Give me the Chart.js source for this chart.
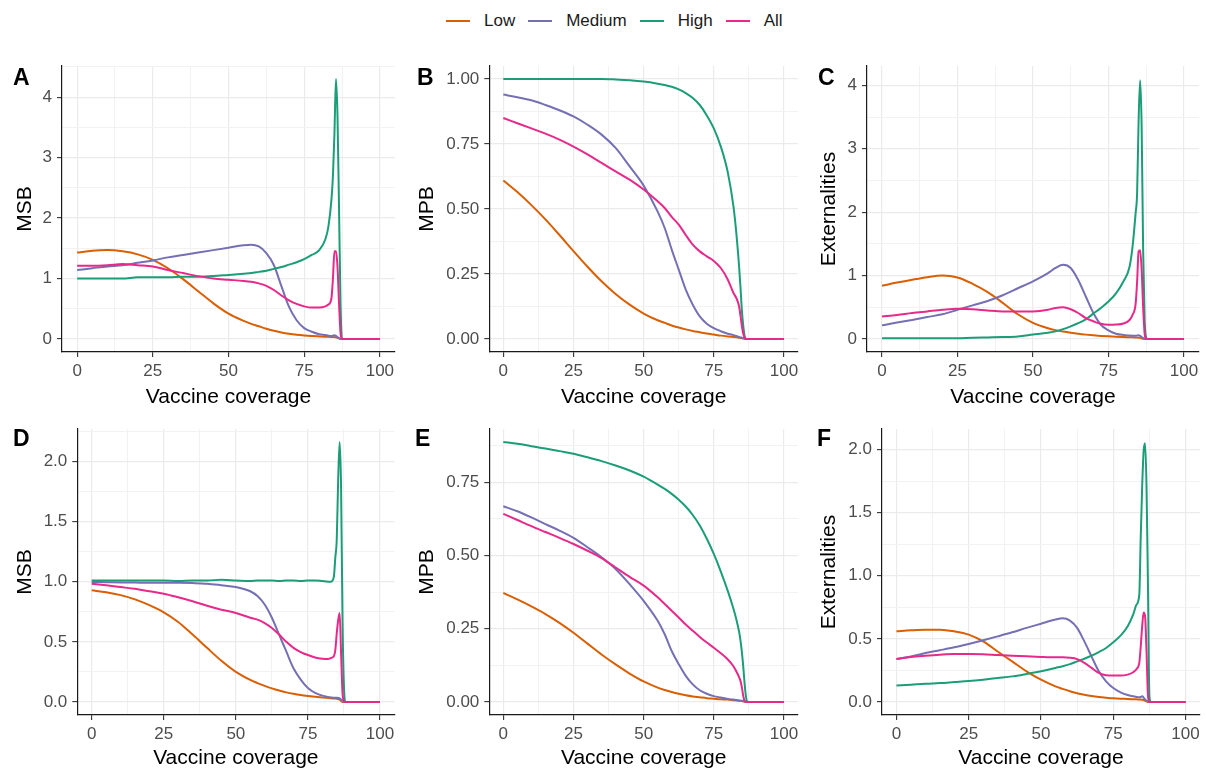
<!DOCTYPE html>
<html>
<head>
<meta charset="utf-8">
<script src="https://cdn.jsdelivr.net/npm/chart.js@4.4.1/dist/chart.umd.min.js"></script>
<style>
html,body{margin:0;padding:0;background:#fff;width:1206px;height:771px;overflow:hidden;font-family:"Liberation Sans",Arial,sans-serif;}
canvas.panel{position:absolute;}
#legend{position:absolute;left:446px;top:9px;height:24px;display:flex;align-items:center;font-size:17px;color:#1a1a1a;}
#legend .item{display:flex;align-items:center;margin-right:13px;}
#legend .swatch{width:24px;height:2.5px;margin-right:14px;}
</style>
</head>
<body>
<div id="legend"></div>
<canvas id="pA" class="panel"></canvas>
<canvas id="pB" class="panel"></canvas>
<canvas id="pC" class="panel"></canvas>
<canvas id="pD" class="panel"></canvas>
<canvas id="pE" class="panel"></canvas>
<canvas id="pF" class="panel"></canvas>
<script>
// ---------------- DATA ----------------
const seriesNames = ['Low', 'Medium', 'High', 'All'];
const seriesColors = ['#D95F02', '#7570B3', '#1B9E77', '#E7298A'];

const coverage = [0,5,10,15,20,25,30,35,40,45,50,55,57.5,60,62.5,65,67.5,70,72.5,75,77.5,80,82,83,84,84.5,85,85.5,86,86.5,87,87.5,88,90,95,100];

const xMajorTicks = [0, 25, 50, 75, 100];
const xMinorTicks = [12.5, 37.5, 62.5, 87.5];

// Panel A: MSB
const msbLowA  = [1.43,1.46,1.47,1.45,1.40,1.31,1.17,0.99,0.79,0.59,0.42,0.30,0.25,0.21,0.17,0.135,0.108,0.087,0.071,0.059,0.05,0.043,0.038,0.036,0.034,0.033,0.031,0.028,0.02,0.01,0,0,0,0,0,0];
const msbMedA  = [1.14,1.17,1.20,1.22,1.26,1.30,1.35,1.39,1.43,1.47,1.51,1.55,1.56,1.53,1.42,1.22,0.87,0.53,0.31,0.18,0.12,0.08,0.065,0.055,0.05,0.055,0.06,0.05,0.03,0.015,0,0,0,0,0,0];
const msbHighA = [1.0,1.0,1.0,1.0,1.02,1.02,1.02,1.03,1.03,1.04,1.06,1.08,1.09,1.11,1.13,1.16,1.19,1.23,1.27,1.32,1.39,1.47,1.65,1.86,2.3,2.7,3.4,4.3,3.7,2.2,0.6,0,0,0,0,0];
const msbAllA  = [1.21,1.21,1.22,1.24,1.22,1.20,1.14,1.09,1.04,1.0,0.98,0.96,0.945,0.92,0.88,0.81,0.72,0.64,0.58,0.54,0.52,0.52,0.54,0.57,0.67,1.0,1.45,1.45,1.2,0.6,0.1,0,0,0,0,0];

// Panel B: MPB
const mpbLowB  = [0.61,0.565,0.515,0.46,0.40,0.338,0.278,0.222,0.173,0.132,0.098,0.072,0.062,0.052,0.044,0.037,0.031,0.026,0.021,0.017,0.013,0.01,0.008,0.007,0.005,0.004,0.003,0.002,0.001,0,0,0,0,0,0,0];
const mpbMedB  = [0.94,0.93,0.918,0.90,0.88,0.856,0.824,0.786,0.735,0.664,0.59,0.49,0.427,0.344,0.267,0.19,0.132,0.087,0.059,0.042,0.03,0.02,0.015,0.012,0.008,0.006,0.005,0.003,0.002,0.001,0,0,0,0,0,0];
const mpbHighB = [1.0,1.0,1.0,1.0,1.0,1.0,1.0,1.0,0.998,0.995,0.99,0.982,0.977,0.97,0.96,0.946,0.927,0.90,0.86,0.81,0.74,0.64,0.51,0.41,0.28,0.2,0.11,0.05,0.01,0,0,0,0,0,0,0];
const mpbAllB  = [0.85,0.83,0.81,0.79,0.767,0.74,0.71,0.677,0.645,0.613,0.575,0.53,0.504,0.47,0.44,0.40,0.363,0.337,0.318,0.30,0.273,0.228,0.177,0.158,0.126,0.09,0.05,0.02,0.005,0,0,0,0,0,0,0];

// Panel C: Externalities
const extLowC  = [0.84,0.89,0.935,0.975,1.0,0.97,0.87,0.74,0.57,0.39,0.255,0.17,0.14,0.117,0.098,0.082,0.069,0.058,0.049,0.042,0.036,0.031,0.028,0.026,0.024,0.023,0.021,0.018,0.012,0.005,0,0,0,0,0,0];
const extMedC  = [0.215,0.26,0.30,0.346,0.39,0.46,0.53,0.60,0.69,0.80,0.91,1.04,1.12,1.17,1.12,0.93,0.67,0.41,0.225,0.136,0.084,0.063,0.055,0.052,0.05,0.055,0.06,0.05,0.03,0.015,0,0,0,0,0,0];
const extHighC = [0.01,0.01,0.01,0.01,0.01,0.012,0.02,0.025,0.03,0.04,0.07,0.10,0.12,0.155,0.2,0.25,0.31,0.40,0.49,0.59,0.72,0.91,1.14,1.46,1.98,2.3,3.45,4.08,3.35,1.4,0.3,0.02,0,0,0,0];
const extAllC  = [0.356,0.38,0.41,0.435,0.46,0.477,0.47,0.45,0.435,0.435,0.435,0.46,0.49,0.50,0.47,0.41,0.33,0.28,0.24,0.225,0.228,0.245,0.30,0.38,0.55,0.9,1.38,1.4,1.1,0.5,0.08,0,0,0,0,0];

// Panel D: MSB
const msbLowD  = [0.928,0.912,0.888,0.853,0.805,0.745,0.665,0.56,0.45,0.342,0.25,0.183,0.157,0.134,0.113,0.095,0.08,0.068,0.058,0.05,0.043,0.037,0.033,0.031,0.029,0.028,0.026,0.023,0.02,0.01,0,0,0,0,0,0];
const msbMedD  = [0.997,0.995,0.993,0.992,0.99,0.99,0.99,0.988,0.983,0.97,0.955,0.92,0.88,0.81,0.70,0.56,0.42,0.28,0.186,0.116,0.075,0.053,0.042,0.038,0.035,0.035,0.035,0.033,0.03,0.02,0.01,0,0,0,0,0];
const msbHighD = [1.01,1.01,1.01,1.01,1.01,1.01,1.005,1.01,1.01,1.015,1.01,1.005,1.01,1.01,1.01,1.005,1.01,1.01,1.005,1.01,1.01,1.005,1.0,1.0,1.04,1.2,1.35,1.85,2.16,1.79,0.68,0.13,0,0,0,0];
const msbAllD  = [0.983,0.97,0.955,0.94,0.92,0.90,0.87,0.837,0.80,0.767,0.74,0.70,0.684,0.656,0.615,0.56,0.50,0.45,0.415,0.39,0.37,0.36,0.357,0.366,0.38,0.43,0.57,0.68,0.74,0.41,0.075,0.01,0,0,0,0];

// Panel E: MPB
const mpbLowE  = [0.372,0.35,0.326,0.30,0.27,0.236,0.199,0.162,0.128,0.097,0.07,0.049,0.041,0.034,0.028,0.023,0.019,0.016,0.013,0.011,0.009,0.008,0.006,0.005,0.004,0.004,0.003,0.002,0.001,0,0,0,0,0,0,0];
const mpbMedE  = [0.668,0.651,0.63,0.607,0.585,0.56,0.528,0.494,0.454,0.402,0.345,0.277,0.231,0.174,0.129,0.089,0.06,0.04,0.028,0.02,0.015,0.01,0.008,0.007,0.005,0.004,0.004,0.003,0.002,0.001,0,0,0,0,0,0];
const mpbHighE = [0.887,0.881,0.873,0.865,0.856,0.847,0.835,0.822,0.807,0.79,0.769,0.742,0.727,0.71,0.69,0.667,0.638,0.602,0.557,0.505,0.445,0.378,0.318,0.283,0.24,0.21,0.17,0.12,0.06,0.015,0,0,0,0,0,0];
const mpbAllE  = [0.642,0.621,0.60,0.58,0.56,0.539,0.516,0.491,0.459,0.427,0.397,0.357,0.334,0.311,0.288,0.264,0.243,0.222,0.203,0.185,0.166,0.145,0.122,0.105,0.085,0.072,0.05,0.02,0.003,0,0,0,0,0,0,0];

// Panel F: Externalities
const extLowF  = [0.56,0.568,0.573,0.573,0.56,0.534,0.48,0.40,0.322,0.243,0.177,0.124,0.104,0.085,0.07,0.058,0.048,0.04,0.034,0.029,0.026,0.024,0.022,0.021,0.02,0.019,0.018,0.016,0.01,0.005,0,0,0,0,0,0];
const extMedF  = [0.34,0.36,0.388,0.41,0.433,0.46,0.489,0.52,0.552,0.587,0.62,0.653,0.663,0.645,0.587,0.48,0.36,0.243,0.164,0.111,0.077,0.055,0.045,0.04,0.037,0.04,0.045,0.035,0.02,0.01,0.005,0,0,0,0,0];
const extHighF = [0.13,0.137,0.145,0.15,0.158,0.166,0.177,0.19,0.203,0.222,0.243,0.27,0.283,0.30,0.322,0.343,0.367,0.396,0.428,0.473,0.526,0.60,0.70,0.77,0.85,1.31,1.71,1.99,2.05,1.71,0.92,0.045,0,0,0,0];
const extAllF  = [0.34,0.357,0.367,0.375,0.38,0.38,0.378,0.372,0.367,0.362,0.357,0.354,0.354,0.351,0.34,0.31,0.27,0.23,0.211,0.209,0.209,0.217,0.238,0.26,0.31,0.44,0.6,0.71,0.68,0.4,0.05,0,0,0,0,0];

// ---------------- LEGEND ----------------
const legendEl = document.getElementById('legend');
seriesNames.forEach((n, i) => {
  const it = document.createElement('div'); it.className = 'item';
  const sw = document.createElement('div'); sw.className = 'swatch'; sw.style.background = seriesColors[i];
  const tx = document.createElement('span'); tx.textContent = n;
  it.appendChild(sw); it.appendChild(tx); legendEl.appendChild(it);
});

// ---------------- PANELS ----------------
const FONT = '"Liberation Sans", Arial, sans-serif';
const near = (v, arr) => arr.some(m => Math.abs(m - v) < 1e-9);

function makePanel(p) {
  const cv = document.getElementById(p.id);
  cv.width = p.w; cv.height = p.h;
  cv.style.left = p.left + 'px'; cv.style.top = p.top + 'px';
  cv.style.width = p.w + 'px'; cv.style.height = p.h + 'px';
  const yAll = p.yMajors.concat(p.yMinors).sort((a, b) => a - b);
  const xAll = xMajorTicks.concat(xMinorTicks).sort((a, b) => a - b);
  const datasets = p.series.map((s, i) => ({
    label: seriesNames[i],
    data: coverage.map((c, k) => ({x: c, y: s[k]})),
    borderColor: seriesColors[i],
    backgroundColor: seriesColors[i],
    borderWidth: 2,
    pointRadius: 0,
    cubicInterpolationMode: 'monotone',
    fill: false,
    order: 4 - i
  }));
  const letterPlugin = {
    id: 'letter' + p.id,
    afterDraw(chart) {
      const ctx = chart.ctx;
      ctx.save();
      ctx.font = 'bold 23px ' + FONT;
      ctx.fillStyle = '#000';
      ctx.textBaseline = 'alphabetic';
      ctx.textAlign = 'left';
      ctx.fillText(p.letter, p.lx - p.left, p.ly - p.top);
      ctx.restore();
    }
  };
  return new Chart(cv, {
    type: 'line',
    data: {datasets},
    plugins: [letterPlugin],
    options: {
      responsive: false, animation: false, devicePixelRatio: 1,
      layout: {padding: {left: 0, right: p.padRight, top: p.padTop, bottom: 0}},
      plugins: {legend: {display: false}, tooltip: {enabled: false}},
      scales: {
        x: {
          type: 'linear', min: -5, max: 105,
          afterBuildTicks: s => { s.ticks = xAll.map(v => ({value: v})); },
          afterFit: s => { s.height = p.xh; s.paddingLeft = 0; s.paddingRight = 0; },
          grid: {
            color: c => near(c.tick.value, xMajorTicks) ? '#EBEBEB' : '#F2F2F2',
            lineWidth: c => near(c.tick.value, xMajorTicks) ? 1.2 : 1.0,
            tickColor: c => near(c.tick.value, xMajorTicks) ? '#333333' : 'rgba(0,0,0,0)',
            tickLength: 5, tickWidth: 1.1
          },
          border: {display: true, color: '#1a1a1a', width: 1.2},
          ticks: {
            autoSkip: false, maxRotation: 0, minRotation: 0, padding: 4,
            color: '#4D4D4D', font: {family: FONT, size: 17},
            callback: v => near(v, xMajorTicks) ? String(v) : ''
          },
          title: {display: true, text: 'Vaccine coverage', color: '#000',
                  font: {family: FONT, size: 21, lineHeight: 1.2}, padding: {top: 0, bottom: p.xtPad}}
        },
        y: {
          type: 'linear', min: p.ymin, max: p.ymax,
          afterBuildTicks: s => { s.ticks = yAll.map(v => ({value: v})); },
          afterFit: s => { s.width = p.yw; s.paddingTop = 0; s.paddingBottom = 0; },
          grid: {
            color: c => near(c.tick.value, p.yMajors) ? '#EBEBEB' : '#F2F2F2',
            lineWidth: c => near(c.tick.value, p.yMajors) ? 1.2 : 1.0,
            tickColor: c => near(c.tick.value, p.yMajors) ? '#333333' : 'rgba(0,0,0,0)',
            tickLength: 5, tickWidth: 1.1
          },
          border: {display: true, color: '#1a1a1a', width: 1.2},
          ticks: {
            autoSkip: false, padding: 5,
            color: '#4D4D4D', font: {family: FONT, size: 17},
            callback: v => near(v, p.yMajors) ? v.toFixed(p.dec) : ''
          },
          title: {display: true, text: p.ytitle, color: '#000',
                  font: {family: FONT, size: 21, lineHeight: 1.2}, padding: {top: p.ytPad, bottom: 0}}
        }
      }
    }
  });
}

const panels = [
  {id: 'pA', letter: 'A', left: 0, top: 60, w: 400, h: 350, yw: 62, padRight: 5, padTop: 6, xh: 58, xtPad: 0.5, ytPad: 12.4,
   lx: 13, ly: 85, ymin: -0.215, ymax: 4.515, yMajors: [0,1,2,3,4], yMinors: [0.5,1.5,2.5,3.5,4.5], dec: 0, ytitle: 'MSB',
   series: [msbLowA, msbMedA, msbHighA, msbAllA]},
  {id: 'pB', letter: 'B', left: 400, top: 60, w: 400, h: 350, yw: 89.3, padRight: 2, padTop: 6, xh: 58, xtPad: 0.5, ytPad: 14.4,
   lx: 417, ly: 85, ymin: -0.05, ymax: 1.05, yMajors: [0,0.25,0.5,0.75,1], yMinors: [0.125,0.375,0.625,0.875], dec: 2, ytitle: 'MPB',
   series: [mpbLowB, mpbMedB, mpbHighB, mpbAllB]},
  {id: 'pC', letter: 'C', left: 800, top: 60, w: 406, h: 350, yw: 66.9, padRight: 7, padTop: 6, xh: 58, xtPad: 0.5, ytPad: 16.4,
   lx: 818, ly: 85, ymin: -0.205, ymax: 4.305, yMajors: [0,1,2,3,4], yMinors: [0.5,1.5,2.5,3.5], dec: 0, ytitle: 'Externalities',
   series: [extLowC, extMedC, extHighC, extAllC]},
  {id: 'pD', letter: 'D', left: 0, top: 423, w: 400, h: 348, yw: 77.3, padRight: 5.6, padTop: 6, xh: 56, xtPad: 0, ytPad: 12.4,
   lx: 13, ly: 446, ymin: -0.108, ymax: 2.268, yMajors: [0,0.5,1,1.5,2], yMinors: [0.25,0.75,1.25,1.75,2.25], dec: 1, ytitle: 'MSB',
   series: [msbLowD, msbMedD, msbHighD, msbAllD]},
  {id: 'pE', letter: 'E', left: 400, top: 423, w: 400, h: 348, yw: 89.3, padRight: 2, padTop: 6, xh: 56, xtPad: 0, ytPad: 14.4,
   lx: 415, ly: 446, ymin: -0.0445, ymax: 0.9315, yMajors: [0,0.25,0.5,0.75], yMinors: [0.125,0.375,0.625,0.875], dec: 2, ytitle: 'MPB',
   series: [mpbLowE, mpbMedE, mpbHighE, mpbAllE]},
  {id: 'pF', letter: 'F', left: 800, top: 423, w: 406, h: 348, yw: 82, padRight: 6, padTop: 6, xh: 56, xtPad: 0, ytPad: 16.4,
   lx: 817, ly: 446, ymin: -0.103, ymax: 2.163, yMajors: [0,0.5,1,1.5,2], yMinors: [0.25,0.75,1.25,1.75], dec: 1, ytitle: 'Externalities',
   series: [extLowF, extMedF, extHighF, extAllF]}
];
panels.forEach(makePanel);
</script>
</body>
</html>
